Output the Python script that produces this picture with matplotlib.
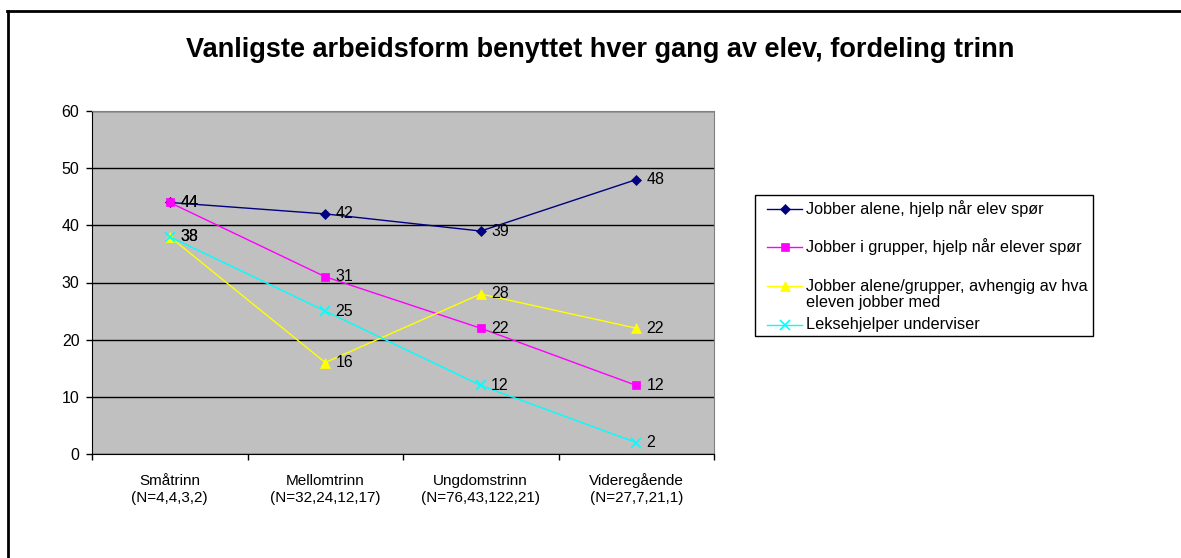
import matplotlib.pyplot as plt
from matplotlib.lines import Line2D
from matplotlib.patches import Rectangle
from matplotlib.transforms import blended_transform_factory

plt.rcParams['font.family'] = ['Liberation Sans', 'DejaVu Sans']

trinn = ['Småtrinn', 'Mellomtrinn', 'Ungdomstrinn', 'Videregående']
antall = ['(N=4,4,3,2)', '(N=32,24,12,17)', '(N=76,43,122,21)', '(N=27,7,21,1)']

alene = [44, 42, 39, 48]
grupper = [44, 31, 22, 12]
avhengig = [38, 16, 28, 22]
lekse = [38, 25, 12, 2]

navn = ['Jobber alene, hjelp når elev spør',
        'Jobber i grupper, hjelp når elever spør',
        'Jobber alene/grupper, avhengig av hva\neleven jobber med',
        'Leksehjelper underviser']

serier = [alene, grupper, avhengig, lekse]
farger = ['#000080', '#FF00FF', '#FFFF00', '#00FFFF']
markorer = ['D', 's', '^', 'x']
msize = [5.5, 6, 6.5, 6.5]

W, H = 1181, 558
fig = plt.figure(figsize=(W / 100, H / 100), dpi=100)
ax = fig.add_axes([92 / W, 1 - 454 / H, (714 - 92) / W, (454 - 111) / H])
ax.set_facecolor('#C0C0C0')

x = list(range(len(trinn)))
for s, f, m, ms in zip(serier, farger, markorer, msize):
    ax.plot(x, s, color=f, marker=m, markersize=ms, lw=1, zorder=3,
            markeredgewidth=1.2 if m == 'x' else 0.5)
    for xi, v in zip(x, s):
        ax.annotate(str(v), (xi, v), xytext=(7.5, 0), textcoords='offset points',
                    va='center', ha='left', fontsize=11.5, zorder=4)

ax.set_xlim(-0.5, len(trinn) - 0.5)
ax.set_ylim(0, 60)
ax.set_yticks(range(0, 61, 10))
ax.tick_params(axis='y', labelsize=11.5, length=4, width=1, pad=5)
ax.set_xticks([i - 0.5 for i in range(len(trinn) + 1)])
ax.set_xticklabels([])
ax.tick_params(axis='x', which='major', length=4, width=1)
ax.grid(axis='y', color='black', lw=1, zorder=1)
ax.set_axisbelow(True)
for side in ['top', 'right']:
    ax.spines[side].set_color('#808080')
for side in ['left', 'bottom']:
    ax.spines[side].set_color('black')

# category labels, two lines each
tr = blended_transform_factory(ax.transData, fig.transFigure)
for xi, t, n in zip(x, trinn, antall):
    ax.text(xi, 1 - 485 / H, t, transform=tr, ha='center', va='baseline', fontsize=11)
    ax.text(xi, 1 - 502 / H, n, transform=tr, ha='center', va='baseline', fontsize=11)

fig.text(600 / W, 1 - 57 / H, 'Vanligste arbeidsform benyttet hver gang av elev, fordeling trinn',
         ha='center', va='baseline', fontsize=19.5, fontweight='bold')

# legend box drawn by hand to keep the uneven spacing
fig.add_artist(Rectangle((755 / W, 1 - 336 / H), (1093 - 755) / W, (336 - 195) / H,
                         transform=fig.transFigure, facecolor='white',
                         edgecolor='black', lw=1))
ys = [209, 247, 286, 325]
for y, f, m, ms, n in zip(ys, farger, markorer, msize, navn):
    fig.add_artist(Line2D([767 / W, 802 / W], [1 - y / H] * 2, color=f, lw=1,
                          transform=fig.transFigure))
    fig.add_artist(Line2D([784.5 / W], [1 - y / H], color=f, marker=m, markersize=ms,
                          markeredgewidth=1.2 if m == 'x' else 0.5,
                          transform=fig.transFigure))
    for k, linje in enumerate(n.split('\n')):
        fig.text(806 / W, 1 - (y + 17 * k) / H, linje, ha='left', va='center',
                 fontsize=11.7, transform=fig.transFigure)

# outer frame
fig.add_artist(Line2D([7 / W, 1], [1 - 11 / H] * 2, color='black', lw=2))
fig.add_artist(Line2D([8 / W] * 2, [0, 1 - 11 / H], color='black', lw=2))

fig.savefig('out.png', dpi=100)
